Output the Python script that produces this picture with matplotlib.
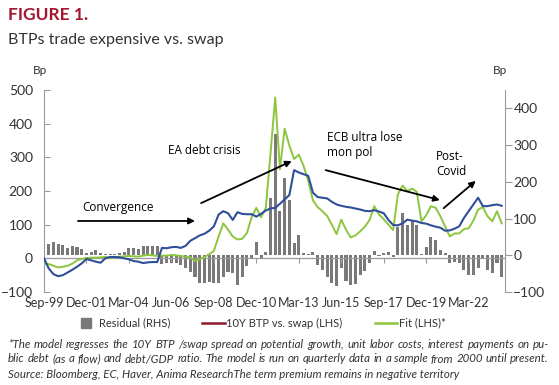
import matplotlib

matplotlib.use("Agg")
import matplotlib.pyplot as plt
import numpy as np
from matplotlib.lines import Line2D

plt.rcParams["font.family"] = ["Lato", "DejaVu Sans"]

# Quarterly data, Sep-99 to Dec-23 (index 0 = Sep-99)
btp_swap = [
    0, -30, -47, -53, -50, -42, -34, -25, -15, -2,
    -6, -10, -13, 0, 4, 4, 3, 0, -3, -8,
    -10, -14, -12, -11, -11, 31, 30, 33, 34, 31,
    37, 52, 60, 68, 73, 82, 95, 130, 140, 134,
    114, 137, 132, 131, 131, 124, 132, 142, 148, 150,
    162, 175, 188, 262, 255, 250, 245, 195, 182, 180,
    178, 168, 160, 156, 153, 151, 148, 145, 141, 140,
    143, 139, 134, 114, 99, 98, 104, 115, 112, 110,
    105, 103, 98, 94, 91, 82, 83, 88, 95, 120,
    140, 160, 180, 155, 155, 158, 160, 156,
]
fit = [
    -15, -17, -22, -27, -25, -22, -16, -6, -2, 1,
    2, 2, 3, 4, 1, 3, 5, 6, 7, 6,
    5, 8, 10, 9, 7, 8, 8, 10, 9, 7,
    5, 3, -8, -3, 4, 12, 22, 65, 104, 85,
    65, 56, 58, 75, 122, 150, 122, 150, 310, 478,
    265, 385, 335, 295, 308, 275, 230, 172, 152, 140,
    126, 100, 72, 115, 85, 62, 68, 80, 94, 114,
    155, 130, 116, 100, 84, 190, 216, 200, 207, 198,
    110, 128, 155, 150, 125, 95, 65, 74, 74, 87,
    89, 112, 145, 152, 125, 110, 140, 104,
]
residual = [
    np.nan, 32, 36, 31, 27, 20, 25, 22, 16, 7,
    10, 15, 6, 3, 3, 3, 5, 9, 21, 19,
    17, 26, 24, 26, 26, -25, -20, -20, -22, -26,
    -35, -45, -58, -75, -75, -72, -75, -75, -58, -45,
    -49, -81, -58, -30, -8, 37, -10, 10, 155, 330,
    120, 210, 150, 33, 55, 7, 3, 10, -26, -40,
    -58, -75, -85, -35, -70, -82, -77, -55, -42, -20,
    12, -3, 5, 8, -6, 78, 114, 83, 92, 83,
    3, 23, 51, 42, 14, 5, -22, -18, -22, -40,
    -54, -54, -36, -9, -40, -49, -22, -58,
]
tick_labels = ["Sep-99", "Dec-01", "Mar-04", "Jun-06", "Sep-08", "Dec-10",
               "Mar-13", "Jun-15", "Sep-17", "Dec-19", "Mar-22"]
left_ticks = [-100, 0, 100, 200, 300, 400, 500]
right_ticks = [-100, 0, 100, 200, 300, 400]

BLUE = "#2f4f98"
GREEN = "#8cc63f"
GREY = "#7a7878"
RED = "#8c1c2c"
TXT = "#333333"
AXC = "#9a9a9a"

idx = np.arange(len(btp_swap))

fig = plt.figure(figsize=(5.59, 3.85), dpi=100)
W, H = 559, 385
ax = fig.add_axes([44 / W, 1 - 292 / H, (505 - 44) / W, (292 - 90) / H])
ax2 = ax.twinx()

ax2.bar(idx, residual, width=0.65, color=GREY, zorder=1)
ax.plot(idx, fit, color=GREEN, lw=1.4, zorder=3)
ax.plot(idx, btp_swap, color=BLUE, lw=1.5, zorder=4)

ax.set_zorder(ax2.get_zorder() + 1)
ax.patch.set_visible(False)

ax.set_xlim(0, 97.7)
ax.set_ylim(-100, 500)
ax2.set_ylim(-100, 450)

for a in (ax, ax2):
    a.spines["top"].set_visible(False)
ax2.spines["bottom"].set_visible(False)
ax.spines["right"].set_visible(False)
ax2.spines["left"].set_visible(False)
ax.spines["left"].set_color(AXC)
ax2.spines["right"].set_color(AXC)
# category axis sits on the LHS zero line
ax.spines["bottom"].set_position(("data", 0))
ax.spines["bottom"].set_color(AXC)
ax.spines["bottom"].set_linewidth(0.9)

ax.set_yticks(left_ticks)
ax.tick_params(axis="y", direction="in", length=4, color=AXC,
               labelsize=10, labelcolor=TXT, pad=8)
ax2.set_yticks(right_ticks)
ax2.tick_params(axis="y", direction="out", length=5, color=AXC,
                labelsize=10, labelcolor=TXT, pad=1)

ax.set_xticks(idx[::9][:len(tick_labels)], tick_labels)
ax.tick_params(axis="x", direction="out", length=3.5, color=AXC,
               labelsize=9, labelcolor=TXT, pad=24)

# annotations
akw = dict(arrowstyle="-|>", color="black", lw=1.3, mutation_scale=9,
           shrinkA=0, shrinkB=0)
fkw = dict(fontsize=8.5, color="black", family=["Open Sans", "DejaVu Sans"])
ax.annotate("", xy=(32.0, 111), xytext=(7.2, 111), arrowprops=akw)
ax.text(15.7, 152, "Convergence", ha="center", va="center", **fkw)
ax.annotate("", xy=(52.5, 289), xytext=(33.3, 164), arrowprops=akw)
ax.text(26.3, 321, "EA debt crisis", ha="left", va="center", **fkw)
ax.annotate("", xy=(83.9, 173), xytext=(59.7, 262), arrowprops=akw)
ax.text(60.0, 336, "ECB ultra lose\nmon pol", ha="left", va="center",
        linespacing=1.2, **fkw)
ax.annotate("", xy=(91.5, 230), xytext=(84.7, 149), arrowprops=akw)
ax.text(83.1, 280, "Post-\nCovid", ha="left", va="center",
        linespacing=1.2, **fkw)

# titles
fig.text(8 / W, 1 - 15 / H, "FIGURE 1.", fontsize=12.5, fontweight="bold",
         color="#a3162e", va="center")
fig.text(8 / W, 1 - 40 / H, "BTPs trade expensive vs. swap", fontsize=11.5,
         color=TXT, va="center")
fig.text(40 / W, 1 - 71 / H, "Bp", fontsize=8.5, color=TXT, ha="center", va="center")
fig.text(500 / W, 1 - 71 / H, "Bp", fontsize=8.5, color=TXT, ha="center", va="center")

# legend
handles = [
    Line2D([], [], marker="s", ls="none", ms=6.5, color=GREY),
    Line2D([], [], color=RED, lw=1.8),
    Line2D([], [], color=GREEN, lw=1.8),
]
labels = ["Residual (RHS)", "10Y BTP vs. swap (LHS)", "Fit (LHS)*"]
fig.legend(handles, labels, loc="center left", bbox_to_anchor=(75 / W, 1 - 323 / H),
           ncol=3, frameon=False, fontsize=8, handlelength=2.0,
           handletextpad=0.15, columnspacing=2.9, borderpad=0, borderaxespad=0,
           labelcolor=TXT)

# footnote: size picked so line 2 nearly fills the width, first two lines justified
notes = [
    "*The model regresses the 10Y BTP /swap spread on potential growth, unit labor costs, interest payments on pu-",
    "blic debt (as a flow) and debt/GDP ratio. The model is run on quarterly data in a sample from 2000 until present.",
    "Source: Bloomberg, EC, Haver, Anima ResearchThe term premium remains in negative territory",
]
x0, x1 = 8, 549
renderer = fig.canvas.get_renderer()
probe = fig.text(0, 0, notes[1], fontsize=10, style="italic")
size = 10 * (x1 - x0 - 4) / probe.get_window_extent(renderer).width
probe.remove()
nkw = dict(fontsize=size, style="italic", color=TXT, va="center")
for k, line in enumerate(notes):
    y = 1 - (344 + 15 * k) / H
    if k == len(notes) - 1:
        fig.text(x0 / W, y, line, **nkw)
        continue
    words = line.split(" ")
    texts = [fig.text(0, y, w, **nkw) for w in words]
    widths = [t.get_window_extent(renderer).width for t in texts]
    gap = (x1 - x0 - sum(widths)) / (len(words) - 1)
    x = x0
    for t, w in zip(texts, widths):
        t.set_x(x / W)
        x += w + gap

fig.savefig("out.png", dpi=100)
